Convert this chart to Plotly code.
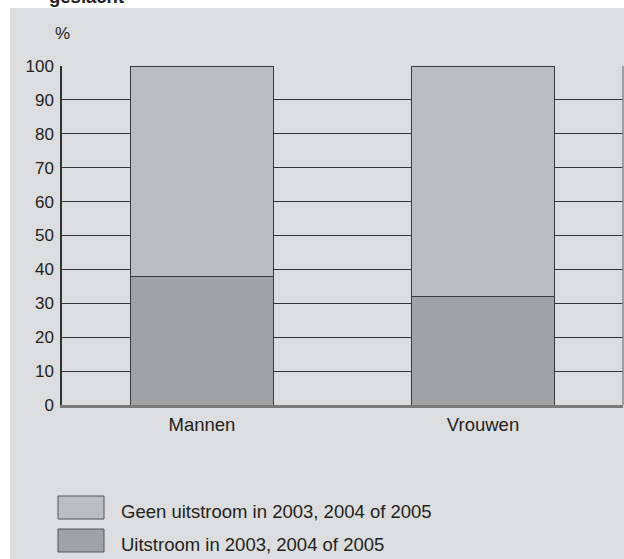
import plotly.graph_objects as go

categories = ["Mannen", "Vrouwen"]
uitstroom = [38, 32]          # Uitstroom in 2003, 2004 of 2005
geen_uitstroom = [62, 68]     # Geen uitstroom in 2003, 2004 of 2005
y_ticks = [0, 10, 20, 30, 40, 50, 60, 70, 80, 90, 100]
legend_labels = ["Geen uitstroom in 2003, 2004 of 2005", "Uitstroom in 2003, 2004 of 2005"]

light = "#bcbdbf"
dark = "#a1a2a4"
bg = "#dcdddf"
font = dict(family="Liberation Sans, Arial, sans-serif", size=17, color="#231f20")
font_big = dict(font, size=18.5)

W, H = 624, 559
ml, mr, mt, mb = 62, 1, 66, 154
pw, ph = W - ml - mr, H - mt - mb

def px_x(x):
    return (x - ml) / pw

def px_y(y):
    return (H - mb - y) / ph

fig = go.Figure()
fig.add_trace(go.Bar(x=categories, y=uitstroom, name=legend_labels[1], width=0.512,
                     marker=dict(color=dark, line=dict(color="#3a3a3a", width=1))))
fig.add_trace(go.Bar(x=categories, y=geen_uitstroom, name=legend_labels[0], width=0.512,
                     marker=dict(color=light, line=dict(color="#3a3a3a", width=1))))

shapes = [
    # grey panel behind the chart
    dict(type="rect", xref="paper", yref="paper", layer="below",
         x0=px_x(10), x1=px_x(W + 2), y0=px_y(H + 2), y1=px_y(8),
         fillcolor=bg, line=dict(width=0)),
    # right border of the plot area
    dict(type="line", xref="paper", yref="paper", x0=1, x1=1, y0=0, y1=1,
         line=dict(color="#8a8a8a", width=1.5)),
]
annotations = [
    dict(text="%", xref="paper", yref="paper", x=px_x(62), y=px_y(33),
         showarrow=False, font=font, xanchor="center", yanchor="middle"),
    dict(text="<b>geslacht</b>", xref="paper", yref="paper", x=px_x(47), y=px_y(9),
         showarrow=False, font=dict(family=font["family"], size=18.5, color="#231f20"),
         xanchor="left", yanchor="bottom"),
]
# legend drawn by hand, boxes like the printed key
for i, (lab, col) in enumerate(zip(legend_labels, [light, dark])):
    top = 496 + i * 33
    shapes.append(dict(type="rect", xref="paper", yref="paper",
                       x0=px_x(58), x1=px_x(104), y0=px_y(top + 23), y1=px_y(top),
                       fillcolor=col, line=dict(color="#555555", width=1)))
    annotations.append(dict(text=lab, xref="paper", yref="paper", x=px_x(119),
                            y=px_y(top + 15.5), showarrow=False, font=font_big,
                            xanchor="left", yanchor="middle"))

fig.update_layout(
    barmode="stack",
    width=W, height=H,
    margin=dict(l=ml, r=mr, t=mt, b=mb),
    paper_bgcolor="white",
    plot_bgcolor="white",
    showlegend=False,
    font=font,
    shapes=shapes,
    annotations=annotations,
)
fig.update_xaxes(range=[-0.498, 1.498], showgrid=False, showline=True,
                 linecolor="#7a7a7a", linewidth=2.5, ticks="", ticklabelstandoff=1,
                 tickfont=font_big)
fig.update_yaxes(range=[0, 100], tickvals=y_ticks, showgrid=True, gridcolor="#333333",
                 gridwidth=1.3, showline=True, linecolor="#333333", linewidth=1.5,
                 zeroline=False, ticks="", ticklabelstandoff=3, tickfont=font)

# page body has a default margin; drop it so the figure fills the window exactly
fig.write_html("out.html", config={"displayModeBar": False},
               post_script="document.body.style.margin='0';document.body.style.overflow='hidden';")
